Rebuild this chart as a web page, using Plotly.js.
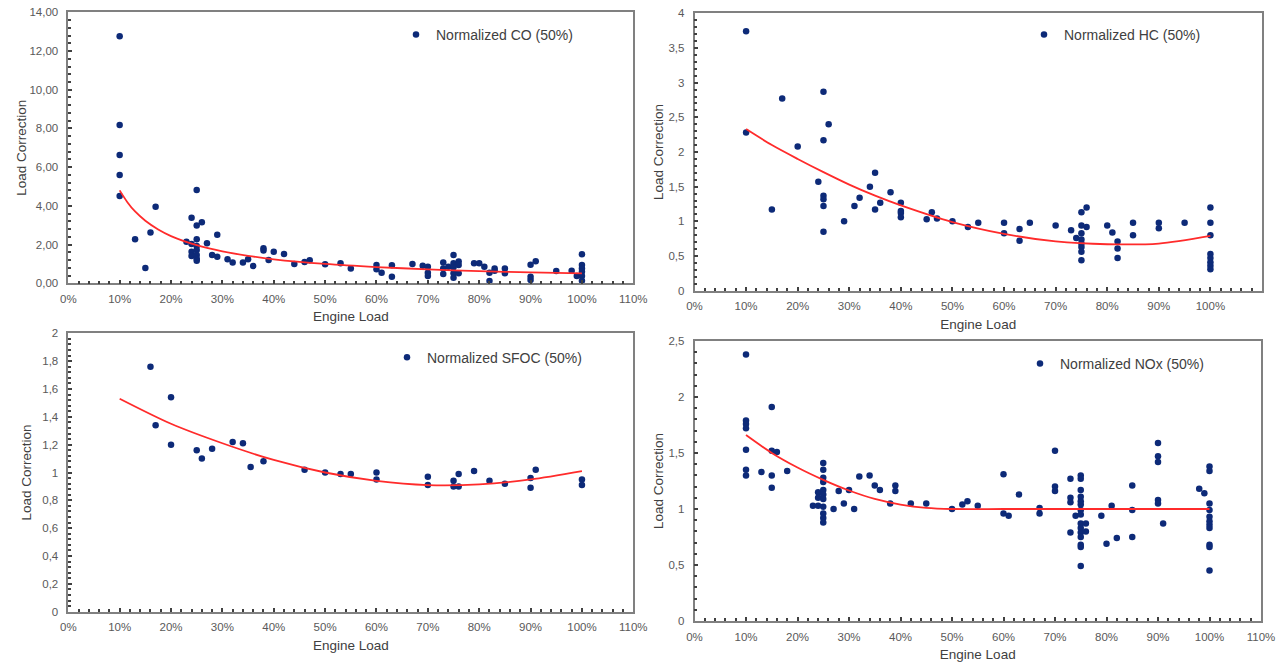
<!DOCTYPE html>
<html>
<head>
<meta charset="utf-8">
<script src="https://cdn.plot.ly/plotly-3.0.1.min.js"></script>
<style>html,body{margin:0;padding:0;background:#fff;}#chart{width:1276px;height:667px;}</style>
</head>
<body>
<div id="chart"></div>
<script>
// ---- CO ----
const coLoad = [0.10,0.10,0.10,0.10,0.10,0.13,0.15,0.16,0.17,0.23,0.24,0.24,0.24,0.24,0.25,0.25,0.25,0.25,0.25,0.25,0.25,0.25,0.26,0.27,0.28,0.29,0.29,0.31,0.32,0.34,0.35,0.36,0.38,0.38,0.39,0.40,0.42,0.44,0.46,0.47,0.50,0.53,0.55,0.60,0.60,0.61,0.63,0.63,0.67,0.69,0.70,0.70,0.70,0.73,0.73,0.73,0.74,0.75,0.75,0.75,0.75,0.75,0.76,0.76,0.76,0.79,0.80,0.81,0.82,0.82,0.83,0.83,0.85,0.85,0.90,0.90,0.90,0.91,0.95,0.98,0.99,1.00,1.00,1.00,1.00,1.00,1.00];
const coValue = [12.76,8.18,6.63,5.59,4.51,2.27,0.79,2.63,3.96,2.15,3.39,2.03,1.63,1.41,4.82,2.98,2.27,1.93,1.72,1.46,1.27,1.17,3.15,2.07,1.46,1.37,2.51,1.24,1.08,1.08,1.24,0.89,1.81,1.69,1.20,1.63,1.51,1.00,1.10,1.19,0.98,1.03,0.77,0.94,0.72,0.55,0.93,0.34,1.00,0.91,0.86,0.55,0.38,1.07,0.77,0.48,0.86,1.46,1.03,0.83,0.52,0.29,1.12,0.94,0.52,1.03,1.03,0.86,0.55,0.12,0.77,0.65,0.77,0.52,0.96,0.34,0.17,1.14,0.64,0.65,0.38,1.50,0.94,0.77,0.60,0.38,0.13];
const coFitLoad = [0.10,0.115,0.13,0.15,0.175,0.20,0.25,0.30,0.35,0.40,0.50,0.60,0.70,0.80,0.90,1.00];
const coFitValue = [4.80,4.19,3.71,3.23,2.78,2.44,1.97,1.65,1.42,1.24,1.00,0.84,0.72,0.63,0.56,0.51];

// ---- HC ----
const hcLoad = [0.10,0.10,0.15,0.17,0.20,0.24,0.25,0.25,0.25,0.25,0.25,0.25,0.26,0.29,0.31,0.32,0.34,0.35,0.35,0.36,0.38,0.40,0.40,0.40,0.40,0.45,0.46,0.47,0.50,0.53,0.55,0.60,0.60,0.63,0.63,0.65,0.70,0.73,0.74,0.75,0.75,0.75,0.75,0.75,0.75,0.75,0.75,0.76,0.76,0.80,0.81,0.82,0.82,0.82,0.85,0.85,0.90,0.90,0.95,1.00,1.00,1.00,1.00,1.00,1.00,1.00,1.00];
const hcValue = [3.74,2.28,1.17,2.77,2.08,1.57,2.87,2.17,1.37,1.32,1.22,0.85,2.40,1.00,1.22,1.34,1.50,1.70,1.17,1.27,1.42,1.27,1.15,1.12,1.06,1.03,1.13,1.04,1.00,0.92,0.98,0.98,0.83,0.89,0.72,0.98,0.94,0.87,0.76,1.13,0.94,0.83,0.74,0.68,0.63,0.56,0.44,1.20,0.92,0.94,0.84,0.71,0.61,0.47,0.98,0.80,0.98,0.90,0.98,1.20,0.98,0.80,0.53,0.47,0.41,0.36,0.31];
const hcFitLoad = [0.10,0.15,0.20,0.25,0.30,0.35,0.40,0.50,0.60,0.70,0.80,0.90,1.00];
const hcFitValue = [2.33,2.10,1.90,1.71,1.53,1.37,1.23,0.99,0.82,0.71,0.67,0.68,0.79];

// ---- SFOC ----
const sfocLoad = [0.16,0.17,0.20,0.20,0.25,0.26,0.28,0.32,0.34,0.355,0.38,0.46,0.50,0.53,0.55,0.60,0.60,0.70,0.70,0.75,0.75,0.76,0.76,0.79,0.82,0.85,0.90,0.90,0.91,1.00,1.00];
const sfocValue = [1.76,1.34,1.54,1.20,1.16,1.10,1.17,1.22,1.21,1.04,1.08,1.02,1.00,0.99,0.99,1.00,0.95,0.97,0.91,0.94,0.90,0.99,0.90,1.01,0.94,0.92,0.96,0.89,1.02,0.95,0.91];
const sfocFitLoad = [0.10,0.20,0.30,0.40,0.50,0.60,0.70,0.80,0.90,1.00];
const sfocFitValue = [1.53,1.35,1.21,1.09,1.00,0.94,0.91,0.915,0.95,1.01];

// ---- NOx ----
const noxLoad = [0.10,0.10,0.10,0.10,0.10,0.10,0.10,0.13,0.15,0.15,0.15,0.15,0.16,0.18,0.23,0.24,0.24,0.24,
  0.25,0.25,0.25,0.25,0.25,0.25,0.25,0.25,0.25,0.25,0.25,0.27,0.28,0.29,0.30,0.31,0.32,0.34,0.35,0.36,0.38,0.39,0.39,
  0.42,0.45,0.50,0.52,0.53,0.55,0.60,0.60,0.61,0.63,0.67,0.67,0.70,0.70,0.70,0.73,0.73,0.73,0.73,0.74,
  0.75,0.75,0.75,0.75,0.75,0.75,0.75,0.75,0.75,0.75,0.75,0.75,0.75,0.75,0.75,0.76,0.76,0.79,0.80,0.81,0.82,
  0.85,0.85,0.85,0.90,0.90,0.90,0.90,0.90,0.91,0.98,0.99,1.00,1.00,1.00,1.00,1.00,1.00,1.00,1.00,1.00,1.00,1.00];
const noxValue = [2.38,1.79,1.76,1.72,1.53,1.35,1.30,1.33,1.91,1.52,1.30,1.19,1.51,1.34,1.03,1.15,1.10,1.03,
  1.41,1.35,1.28,1.24,1.17,1.13,1.09,1.02,0.96,0.92,0.88,1.00,1.16,1.05,1.17,1.00,1.29,1.30,1.21,1.17,1.05,1.21,1.16,
  1.05,1.05,1.00,1.04,1.07,1.03,1.31,0.96,0.94,1.13,1.01,0.96,1.52,1.20,1.16,1.27,1.10,1.06,0.79,0.94,
  1.30,1.27,1.17,1.11,1.07,1.04,0.99,0.95,0.87,0.83,0.79,0.75,0.68,0.66,0.49,0.87,0.80,0.94,0.69,1.03,0.74,
  1.21,0.99,0.75,1.59,1.47,1.42,1.08,1.05,0.87,1.18,1.14,1.38,1.34,1.05,0.99,0.93,0.89,0.86,0.83,0.68,0.66,0.45];
const noxFitLoad = [0.10,0.15,0.20,0.25,0.30,0.35,0.40,0.45,0.50,0.60,0.70,0.80,0.90,1.00];
const noxFitValue = [1.66,1.50,1.37,1.26,1.165,1.09,1.04,1.01,1.00,1.00,1.00,1.00,1.00,1.00];

const seriesNames = ['Normalized CO (50%)','Normalized HC (50%)','Normalized SFOC (50%)','Normalized NOx (50%)'];

const FONT = 'Liberation Sans, Arial, sans-serif';
const DOT = '#0d2a78';
const RED = '#ff2b2b';

function pts(x, y, name, xa, ya, leg) {
  return {type:'scatter', mode:'markers', x:x, y:y, name:name, xaxis:xa, yaxis:ya, legend:leg,
    marker:{color:DOT, size:6.5, line:{width:0}}, hoverinfo:'x+y'};
}
function fit(x, y, xa, ya) {
  return {type:'scatter', mode:'lines', x:x, y:y, xaxis:xa, yaxis:ya, showlegend:false,
    line:{color:RED, width:1.8, shape:'spline', smoothing:0.8}, hoverinfo:'skip'};
}

const data = [
  pts(coLoad, coValue, seriesNames[0], 'x', 'y', 'legend'),
  fit(coFitLoad, coFitValue, 'x', 'y'),
  pts(hcLoad, hcValue, seriesNames[1], 'x2', 'y2', 'legend2'),
  fit(hcFitLoad, hcFitValue, 'x2', 'y2'),
  pts(sfocLoad, sfocValue, seriesNames[2], 'x3', 'y3', 'legend3'),
  fit(sfocFitLoad, sfocFitValue, 'x3', 'y3'),
  pts(noxLoad, noxValue, seriesNames[3], 'x4', 'y4', 'legend4'),
  fit(noxFitLoad, noxFitValue, 'x4', 'y4')
];

const W = 1276, H = 667;
function px(a, b) { return [a / W, b / W]; }
function py(top, bottom) { return [1 - bottom / H, 1 - top / H]; }

const TICKC = '#404040';
function xax(domain, anchor) {
  return {domain:domain, anchor:anchor, range:[0,1.1], dtick:0.1, tick0:0, tickformat:'.0%',
    showline:true, mirror:true, linecolor:'#808080', linewidth:1.5, showgrid:false, zeroline:false,
    ticks:'inside', ticklen:4, tickwidth:1.5, tickcolor:TICKC, ticklabelstandoff:4,
    minor:{ticks:'inside', ticklen:3, tickwidth:1.5, dtick:0.02, tickcolor:TICKC, showgrid:false},
    tickfont:{family:FONT, size:11.5, color:'#595959'},
    title:{text:'Engine Load', standoff:8, font:{family:FONT, size:13.5, color:'#404040'}}};
}
function yax(domain, anchor, max, dt, mdt, fmt, standoff) {
  const o = {domain:domain, anchor:anchor, range:[0,max], dtick:dt, tick0:0,
    showline:true, mirror:true, linecolor:'#808080', linewidth:1.5, showgrid:false, zeroline:false,
    ticks:'inside', ticklen:4, tickwidth:1.5, tickcolor:TICKC, ticklabelstandoff:6,
    minor:{ticks:'inside', ticklen:3, tickwidth:1.5, dtick:mdt, tickcolor:TICKC, showgrid:false},
    tickfont:{family:FONT, size:11.5, color:'#595959'},
    title:{text:'Load Correction', standoff:standoff, font:{family:FONT, size:13.5, color:'#404040'}}};
  if (fmt) o.tickformat = fmt;
  return o;
}
function leg(x, y) {
  return {x:x, y:y, xanchor:'left', yanchor:'middle', bgcolor:'rgba(0,0,0,0)', borderwidth:0,
    itemwidth:30, font:{family:FONT, size:14, color:'#404040'}};
}

const layout = {
  width:W, height:H, autosize:false,
  margin:{l:0, r:0, t:0, b:0},
  paper_bgcolor:'#ffffff', plot_bgcolor:'#ffffff',
  separators:',.',
  showlegend:true,
  xaxis: xax(px(68.3, 633.3), 'y'),
  yaxis: yax(py(12.3, 283.3), 'x', 14, 2, 0.4, '.2f', 0),
  xaxis2: xax(px(694.5, 1262), 'y2'),
  yaxis2: yax(py(13.3, 290.7), 'x2', 4, 0.5, 0.1, null, 2),
  xaxis3: xax(px(68.3, 633.3), 'y3'),
  yaxis3: yax(py(333.3, 611.7), 'x3', 2, 0.2, 0.04, null, 8),
  xaxis4: xax(px(694.5, 1261), 'y4'),
  yaxis4: yax(py(341, 621), 'x4', 2.5, 0.5, 0.1, null, 2),
  legend: leg(396/W, 1 - 35/H),
  legend2: leg(1024/W, 1 - 35/H),
  legend3: leg(387/W, 1 - 357.7/H),
  legend4: leg(1020/W, 1 - 364/H)
};

Plotly.newPlot('chart', data, layout, {displayModeBar:false, responsive:false});
</script>
</body>
</html>
